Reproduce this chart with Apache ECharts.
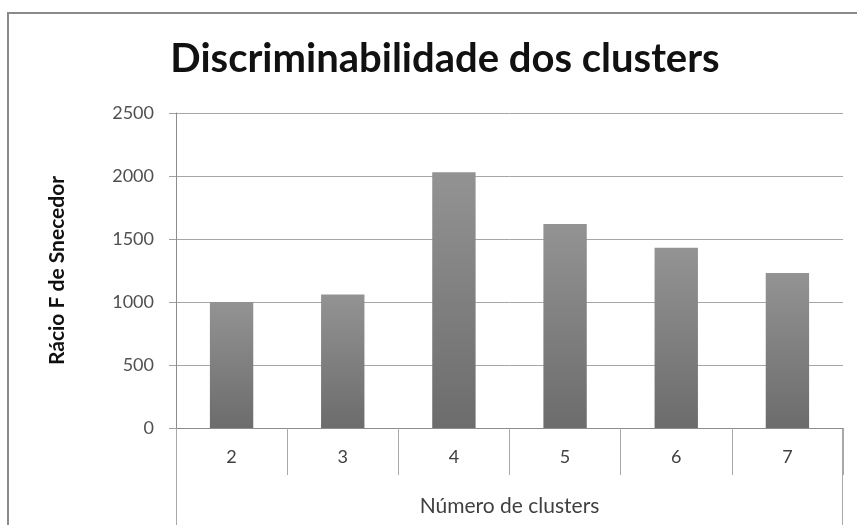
<!DOCTYPE html>
<html>
<head>
<meta charset="utf-8">
<title>Discriminabilidade dos clusters</title>
<script src="https://cdn.jsdelivr.net/npm/echarts@6/dist/echarts.min.js"></script>
<style>
  html, body { margin: 0; padding: 0; background: #fff; }
  #chart { width: 857px; height: 525px; }
</style>
</head>
<body>
<div id="chart"></div>
<script>
// Number of clusters on the x axis
var categories = ['2', '3', '4', '5', '6', '7'];
// Snedecor F ratio for each clustering
var fRatio = [1000, 1060, 2030, 1620, 1430, 1230];
// Value-axis ticks
var yTicks = [0, 500, 1000, 1500, 2000, 2500];

var FONT = 'Lato';
var GRID = { left: 176, right: 14, top: 113, bottom: 97 };

var chart = echarts.init(document.getElementById('chart'), null, { renderer: 'canvas' });

var option = {
  backgroundColor: '#ffffff',
  animation: false,
  title: {
    text: 'Discriminabilidade dos clusters',
    left: 440,
    textAlign: 'center',
    top: 34,
    textStyle: { fontFamily: FONT, fontWeight: 'bold', fontSize: 40, color: '#111' }
  },
  grid: { left: GRID.left, right: GRID.right, top: GRID.top, bottom: GRID.bottom, containLabel: false },
  xAxis: {
    type: 'category',
    data: categories,
    boundaryGap: true,
    name: 'Número de clusters',
    nameLocation: 'middle',
    nameGap: 68,
    nameTextStyle: { fontFamily: FONT, fontSize: 21, color: '#404040' },
    axisLine: { show: true, lineStyle: { color: '#8c8c8c', width: 1 } },
    axisTick: { show: true, alignWithLabel: false, interval: 0, length: 47, lineStyle: { color: '#a8a8a8' } },
    axisLabel: { interval: 0, margin: 20, fontFamily: FONT, fontSize: 18, color: '#404040' },
    splitLine: { show: false }
  },
  yAxis: {
    type: 'value',
    min: yTicks[0],
    max: yTicks[yTicks.length - 1],
    interval: yTicks[1] - yTicks[0],
    name: 'Rácio F de Snecedor',
    nameLocation: 'middle',
    nameGap: 108,
    nameRotate: 90,
    nameTextStyle: { fontFamily: FONT, fontWeight: 'bold', fontSize: 21, color: '#111' },
    axisLine: { show: true, lineStyle: { color: '#8c8c8c', width: 1 } },
    axisTick: { show: true, length: 7, lineStyle: { color: '#a0a0a0' } },
    axisLabel: {
      margin: 22, fontFamily: FONT, fontSize: 18, color: '#505050',
      formatter: function (v) { return String(v); }
    },
    splitLine: { show: true, lineStyle: { color: '#a6a6a6', width: 1 } }
  },
  series: [{
    type: 'bar',
    data: fRatio,
    barCategoryGap: '61%',
    itemStyle: {
      color: new echarts.graphic.LinearGradient(0, 0, 0, 1, [
        { offset: 0, color: '#939393' },
        { offset: 1, color: '#6c6c6c' }
      ])
    }
  }]
};

chart.setOption(option);

// Chart frame and the vertical edges that close the category band below the axis
var baseY = chart.convertToPixel({ yAxisIndex: 0 }, 0);
var leftX = GRID.left;
var rightX = 857 - GRID.right;
chart.setOption({
  graphic: [
    {
      type: 'rect',
      shape: { x: 8, y: 13, width: 900, height: 600 },
      style: { fill: 'none', stroke: '#8a8a8a', lineWidth: 2 },
      silent: true
    },
    {
      type: 'line',
      shape: { x1: leftX + 0.5, y1: baseY, x2: leftX + 0.5, y2: 525 },
      style: { stroke: '#a8a8a8', lineWidth: 1 },
      silent: true
    },
    {
      type: 'line',
      shape: { x1: rightX - 0.5, y1: baseY, x2: rightX - 0.5, y2: 525 },
      style: { stroke: '#a8a8a8', lineWidth: 1 },
      silent: true
    }
  ]
});
</script>
</body>
</html>
